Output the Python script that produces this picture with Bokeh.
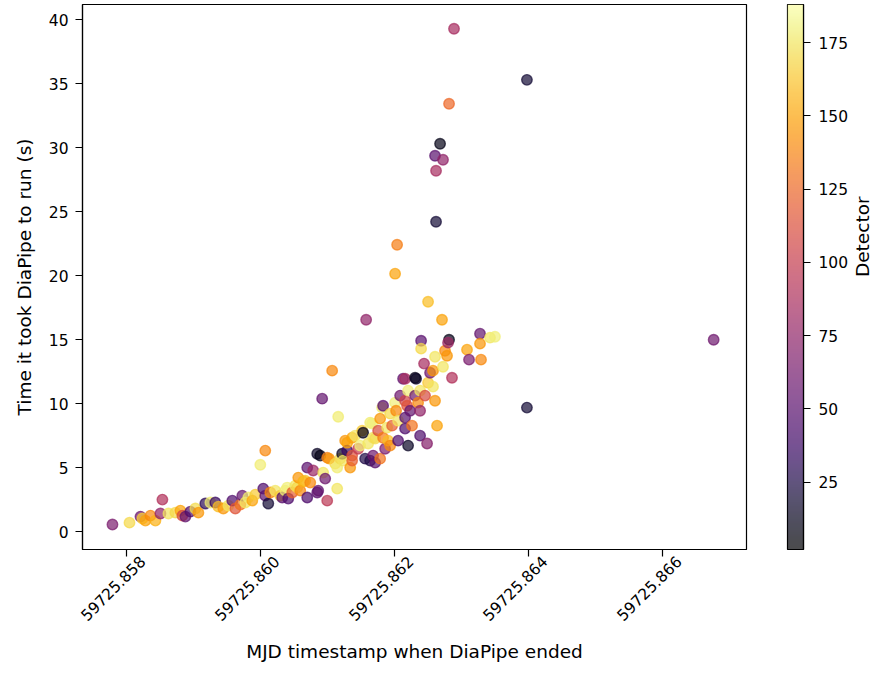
import math
import numpy as np
from bokeh.plotting import figure
from bokeh.layouts import row
from bokeh.models import (LinearColorMapper, FixedTicker, CustomJSTickFormatter,
                          Range1d, ColumnDataSource, LinearAxis)
from bokeh.palettes import Inferno256
from bokeh.embed import file_html
from bokeh.resources import INLINE

# ---------------- data ----------------
mjd_end = [
    59725.857791, 59725.858045, 59725.858209, 59725.858238, 59725.858283,
    59725.858358, 59725.858432, 59725.858507, 59725.858536, 59725.858626,
    59725.858730, 59725.858805, 59725.858834, 59725.858879, 59725.858954,
    59725.859028, 59725.859073, 59725.859177, 59725.859252, 59725.859326,
    59725.859371, 59725.859445, 59725.859520, 59725.859579, 59725.859624,
    59725.859699, 59725.859728, 59725.859773, 59725.859818, 59725.859877,
    59725.859922, 59725.859997, 59725.860071, 59725.860041, 59725.860071,
    59725.860116, 59725.860146, 59725.860220, 59725.860295, 59725.860324,
    59725.860369, 59725.860399, 59725.860414, 59725.860473, 59725.860518,
    59725.860548, 59725.860563, 59725.860593, 59725.860637, 59725.860667,
    59725.860697, 59725.860697, 59725.860742, 59725.860786, 59725.860846,
    59725.860846, 59725.860861, 59725.860891, 59725.860920, 59725.860935,
    59725.860965, 59725.860995, 59725.860995, 59725.861025, 59725.861069,
    59725.861114, 59725.861144, 59725.861144, 59725.861159, 59725.861189,
    59725.861218, 59725.861233, 59725.861263, 59725.861293, 59725.861293,
    59725.861338, 59725.861367, 59725.861367, 59725.861367, 59725.861412,
    59725.861457, 59725.861487, 59725.861516, 59725.861531, 59725.861561,
    59725.861576, 59725.861606, 59725.861636, 59725.861636, 59725.861665,
    59725.861680, 59725.861680, 59725.861710, 59725.861710, 59725.861755,
    59725.861785, 59725.861785, 59725.861814, 59725.861829, 59725.861829,
    59725.861859, 59725.861889, 59725.861904, 59725.861934, 59725.861934,
    59725.861963, 59725.862008, 59725.862023, 59725.862038, 59725.862008,
    59725.862053, 59725.862053, 59725.862083, 59725.862127, 59725.862157,
    59725.862157, 59725.862157, 59725.862157, 59725.862187, 59725.862202,
    59725.862202, 59725.862232, 59725.862261, 59725.862306, 59725.862306,
    59725.862321, 59725.862351, 59725.862381, 59725.862381, 59725.862381,
    59725.862396, 59725.862396, 59725.862440, 59725.862455, 59725.862485,
    59725.862500, 59725.862500, 59725.862530, 59725.862574, 59725.862574,
    59725.862604, 59725.862604, 59725.862619, 59725.862604, 59725.862619,
    59725.862679, 59725.862723, 59725.862634, 59725.862708, 59725.862723,
    59725.862753, 59725.862783, 59725.862813, 59725.862813, 59725.862798,
    59725.862857, 59725.862887, 59725.863081, 59725.863111, 59725.863275,
    59725.863275, 59725.863290, 59725.863424, 59725.863498, 59725.863975,
    59725.863975, 59725.866761,
]
runtime_s = [
    0.55, 0.70, 1.17, 1.02, 0.86,
    1.25, 0.86, 1.41, 2.50, 1.41,
    1.48, 1.64, 1.25, 1.17, 1.56,
    1.80, 1.48, 2.19, 2.27, 2.27,
    1.95, 1.80, 2.03, 2.42, 1.80,
    2.11, 2.81, 2.27, 2.66, 2.42,
    2.89, 5.23, 6.33, 3.36, 2.81,
    2.19, 3.05, 3.20, 2.81, 2.66,
    3.20, 3.44, 2.58, 3.05, 3.59,
    3.44, 4.22, 3.20, 3.91, 3.98,
    2.66, 5.00, 3.83, 4.77, 3.05,
    6.09, 3.20, 5.94, 10.39, 4.61,
    4.14, 2.42, 5.78, 5.70, 12.58,
    5.31, 3.36, 5.00, 8.98, 5.70,
    6.09, 5.55, 7.11, 6.33, 6.95,
    5.00, 5.94, 5.55, 7.34, 7.50,
    6.48, 6.72, 7.89, 7.73, 5.70,
    16.56, 6.88, 5.55, 8.52, 8.44,
    5.94, 7.34, 7.27, 5.39, 7.89,
    5.70, 8.83, 9.69, 7.34, 9.84,
    6.48, 8.13, 7.11, 9.22, 6.72,
    8.28, 10.08, 9.45, 22.42, 20.16,
    8.67, 7.11, 10.63, 11.95, 11.95,
    10.23, 8.91, 8.05, 9.84, 11.02,
    6.72, 9.45, 8.28, 12.03, 10.63,
    11.95, 10.08, 11.02, 9.45, 7.50,
    14.92, 14.30, 13.13, 10.63, 6.88,
    17.97, 11.64, 12.42, 12.58, 11.33,
    13.67, 10.23, 24.22, 29.38, 28.20,
    30.31, 29.06, 8.28, 16.56, 12.89,
    14.14, 13.75, 33.44, 15.00, 14.77,
    12.03, 39.30, 14.22, 13.44, 15.47,
    14.69, 13.44, 15.16, 15.23, 35.31,
    9.69, 15.00,
]
detector = [
    65, 170, 60, 165, 150,
    140, 155, 75, 90, 175,
    170, 150, 110, 55, 45,
    172, 145, 30, 178, 35,
    160, 145, 175, 45, 115,
    130, 55, 175, 178, 150,
    165, 178, 140, 45, 50,
    20, 140, 175, 165, 50,
    178, 180, 45, 120, 175,
    170, 145, 140, 155, 160,
    45, 50, 140, 80, 50,
    15, 55, 10, 55, 175,
    60, 95, 135, 145, 140,
    170, 175, 178, 178, 172,
    15, 175, 145, 35, 150,
    145, 115, 120, 150, 175,
    100, 180, 165, 10, 25,
    75, 175, 25, 178, 180,
    60, 175, 172, 50, 110,
    130, 145, 178, 135, 50,
    65, 175, 160, 170, 140,
    120, 180, 140, 135, 150,
    175, 45, 60, 55, 85,
    105, 50, 45, 115, 180,
    15, 55, 130, 10, 60,
    15, 140, 175, 75, 45,
    50, 170, 85, 110, 70,
    160, 165, 60, 145, 175,
    175, 145, 20, 50, 85,
    10, 75, 150, 150, 175,
    140, 145, 125, 10, 80,
    90, 85, 150, 65, 55,
    145, 140, 175, 180, 20,
    20, 60,
]

x_ticks = [59725.858, 59725.860, 59725.862, 59725.864, 59725.866]
y_ticks = [0, 5, 10, 15, 20, 25, 30, 35, 40]
cbar_ticks = [25, 50, 75, 100, 125, 150, 175]
det_low, det_high = 2, 188

x_label = "MJD timestamp when DiaPipe ended"
y_label = "Time it took DiaPipe to run (s)"
cbar_label = "Detector"

FONT = "DejaVu Sans"
TICK_SIZE = "15.5px"
LABEL_SIZE = "18.5px"

mapper = LinearColorMapper(palette=Inferno256, low=det_low, high=det_high)
src = ColumnDataSource(dict(x=mjd_end, y=runtime_s, det=detector))

H = 666
TOP = 4
BOTTOM = 117
X0, X1 = 59725.857344, 59725.867251
Y0, Y1 = -1.4, 41.2
FRAME_W = 664
LABEL_SHIFT_PX = 16          # rotated labels sit centred under their ticks
shift = LABEL_SHIFT_PX * (X1 - X0) / FRAME_W

p = figure(width=767, height=H, output_backend="svg", toolbar_location=None,
           x_range=Range1d(X0, X1), y_range=Range1d(Y0, Y1),
           min_border_left=82, min_border_right=21,
           min_border_top=TOP, min_border_bottom=BOTTOM)
p.extra_x_ranges = {"xlab": Range1d(X0 - shift, X1 - shift)}
p.scatter("x", "y", source=src, size=10.5,
          fill_color={"field": "det", "transform": mapper},
          line_color={"field": "det", "transform": mapper},
          fill_alpha=0.7, line_alpha=0.7, line_width=1.4)

p.grid.visible = False
p.outline_line_color = "black"
p.outline_line_alpha = 1
p.outline_line_width = 1.2
p.xaxis.ticker = FixedTicker(ticks=x_ticks)
p.xaxis.formatter = CustomJSTickFormatter(code="return '';")
p.yaxis.ticker = FixedTicker(ticks=y_ticks)
p.yaxis.axis_label = y_label

# second (label-only) x axis carrying the rotated tick labels and the title
lab_axis = LinearAxis(x_range_name="xlab",
                      ticker=FixedTicker(ticks=x_ticks),
                      formatter=CustomJSTickFormatter(code="return tick.toFixed(3);"),
                      axis_label=x_label)
p.add_layout(lab_axis, "below")

p2 = figure(width=119, height=H, output_backend="svg", toolbar_location=None,
            x_range=Range1d(0, 1), y_range=Range1d(det_low, det_high),
            x_axis_location=None, y_axis_location="right",
            min_border_left=20, min_border_right=73,
            min_border_top=TOP, min_border_bottom=BOTTOM)
levels = np.linspace(det_low, det_high, 256).reshape(256, 1)
p2.image(image=[levels], x=0, y=det_low, dw=1, dh=det_high - det_low,
         color_mapper=mapper, global_alpha=0.7)
p2.grid.visible = False
p2.outline_line_color = "black"
p2.outline_line_alpha = 1
p2.outline_line_width = 1.2
p2.yaxis.ticker = FixedTicker(ticks=cbar_ticks)
p2.yaxis.axis_label = cbar_label
cax = p2.yaxis[0]
if "axis_label_orientation" in cax.properties():
    cax.axis_label_orientation = math.pi / 2

for fig in (p, p2):
    for ax in fig.axis:
        ax.axis_line_color = "black"
        ax.axis_line_width = 1.2
        ax.major_tick_out = 7
        ax.major_tick_in = 0
        ax.minor_tick_out = 0
        ax.minor_tick_in = 0
        ax.major_tick_line_color = "black"
        ax.major_tick_line_width = 1.2
        ax.major_label_text_font = FONT
        ax.major_label_text_font_size = TICK_SIZE
        ax.major_label_text_color = "black"
        ax.axis_label_text_font = FONT
        ax.axis_label_text_font_size = LABEL_SIZE
        ax.axis_label_text_font_style = "normal"
        ax.axis_label_text_color = "black"
        ax.major_label_standoff = 7

# first x axis: tick marks only
p.xaxis[0].major_label_text_font_size = "0px"
p.xaxis[0].major_label_standoff = 0
# second x axis: labels only
lab_axis.axis_line_color = None
lab_axis.major_tick_line_color = None
lab_axis.major_tick_out = 0
lab_axis.major_label_standoff = 2
lab_axis.major_label_orientation = math.pi / 4
lab_axis.axis_label_standoff = 12

p.yaxis.axis_label_standoff = 11
p2.yaxis.major_label_standoff = 8
p2.yaxis.axis_label_standoff = 11

layout = row(p, p2)
open("out.html", "w").write(file_html(layout, INLINE))
